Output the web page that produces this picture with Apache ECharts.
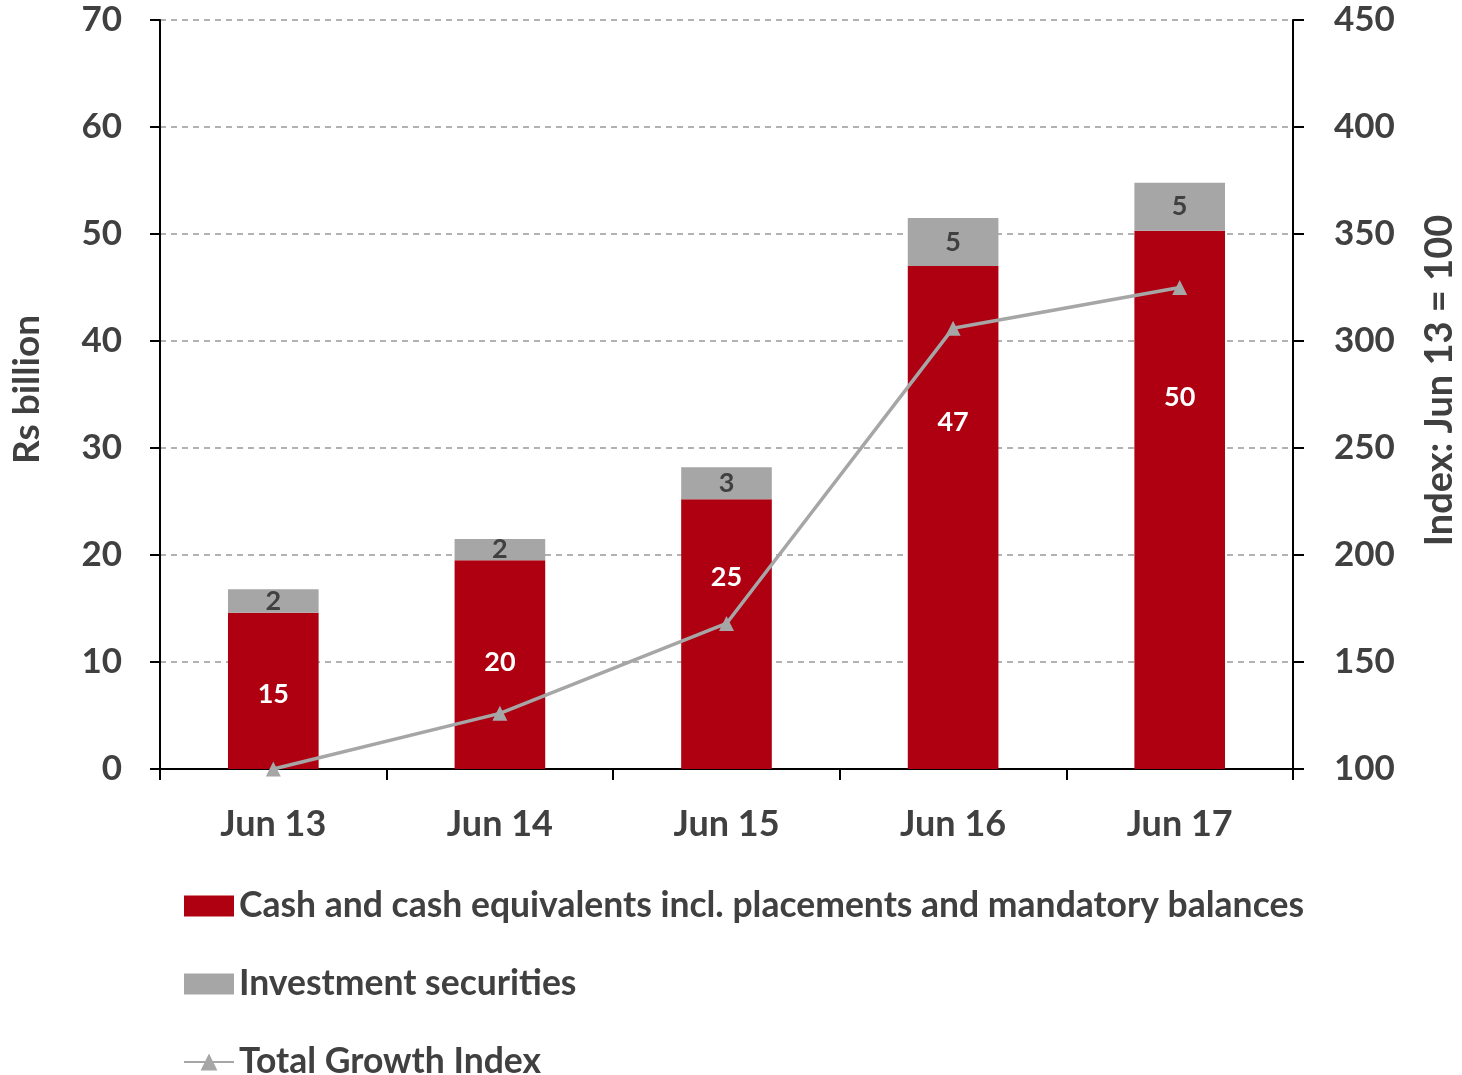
<!DOCTYPE html>
<html>
<head>
<meta charset="utf-8">
<script src="https://cdn.jsdelivr.net/npm/echarts@6/dist/echarts.min.js"></script>
<style>
html,body{margin:0;padding:0;background:#ffffff;overflow:hidden;}
#chart{width:1462px;height:1075px;}
</style>
</head>
<body>
<div id="chart"></div>
<script>
const categories = ['Jun 13', 'Jun 14', 'Jun 15', 'Jun 16', 'Jun 17'];
const cashValues = [14.6, 19.5, 25.2, 47.0, 50.3];
const investValues = [2.2, 2.0, 3.0, 4.5, 4.5];
const growthIndex = [100, 126, 168, 306, 325];
const leftTicks = { min: 0, max: 70, interval: 10 };
const rightTicks = { min: 100, max: 450, interval: 50 };
const seriesNames = [
  'Cash and cash equivalents incl. placements and mandatory balances',
  'Investment securities',
  'Total Growth Index'
];

// label placement (style) for red bar labels, relative to bar rect
const redLabelPos = [['50%','52%'],['50%','49%'],['50%','29%'],['50%','31%'],['50%','31%']];

const FONT = 'Lato';
const TXT = '#404040';
const RED = '#AE0010';
const GRAY = '#A6A6A6';

const chart = echarts.init(document.getElementById('chart'), null, { width: 1462, height: 1075 });
chart.setOption({
  backgroundColor: '#ffffff',
  textStyle: { fontFamily: FONT },
  grid: { left: 160, right: 169, top: 20, bottom: 306, containLabel: false, outerBoundsMode: 'none' },
  legend: {
    orient: 'vertical',
    left: 178,
    top: 881,
    height: 400,
    itemWidth: 50,
    itemHeight: 21,
    itemGap: 38,
    textStyle: { fontFamily: FONT, fontWeight: 'bold', fontSize: 35.5, color: TXT, lineHeight: 40 },
    data: [
      { name: seriesNames[0], icon: 'rect' },
      { name: seriesNames[1], icon: 'rect' },
      { name: seriesNames[2] }
    ]
  },
  xAxis: {
    type: 'category',
    data: categories,
    axisLine: { lineStyle: { color: '#000', width: 2 } },
    axisTick: { show: true, alignWithLabel: false, length: 11, lineStyle: { color: '#000', width: 2 } },
    axisLabel: { fontFamily: FONT, fontWeight: 'bold', fontSize: 36, color: TXT, margin: 37 }
  },
  yAxis: [
    {
      type: 'value',
      min: leftTicks.min, max: leftTicks.max, interval: leftTicks.interval,
      name: 'Rs billion',
      nameLocation: 'middle',
      nameRotate: 90,
      nameGap: 114,
      nameTextStyle: { fontFamily: FONT, fontWeight: 'bold', fontSize: 37, color: TXT, padding: [0, 0, 0, 10] },
      axisLine: { show: true, lineStyle: { color: '#000', width: 2 } },
      axisTick: { show: true, length: 10, lineStyle: { color: '#000', width: 2 } },
      axisLabel: { fontFamily: FONT, fontWeight: 'bold', fontSize: 35, color: TXT, margin: 38 },
      splitLine: { show: true, lineStyle: { color: '#999', width: 1.5, type: [6, 5] } }
    },
    {
      type: 'value',
      min: rightTicks.min, max: rightTicks.max, interval: rightTicks.interval,
      name: 'Index: Jun 13 = 100',
      nameLocation: 'middle',
      nameRotate: 90,
      nameGap: 128,
      nameTextStyle: { fontFamily: FONT, fontWeight: 'bold', fontSize: 38, color: TXT, padding: [0, 0, 0, 28] },
      position: 'right',
      axisLine: { show: true, lineStyle: { color: '#000', width: 2 } },
      axisTick: { show: true, length: 11, lineStyle: { color: '#000', width: 2 } },
      axisLabel: { fontFamily: FONT, fontWeight: 'bold', fontSize: 35, color: TXT, margin: 41 },
      splitLine: { show: false }
    }
  ],
  series: [
    {
      name: seriesNames[0],
      type: 'bar',
      stack: 'total',
      barWidth: '40%',
      itemStyle: { color: RED },
      data: cashValues.map((v, i) => ({
        value: v,
        label: { position: redLabelPos[i] }
      })),
      label: {
        show: true,
        align: 'center',
        verticalAlign: 'middle',
        color: '#ffffff',
        fontFamily: FONT, fontWeight: 'bold', fontSize: 27,
        formatter: p => Math.round(p.value)
      },
      z: 2
    },
    {
      name: seriesNames[1],
      type: 'bar',
      stack: 'total',
      barWidth: '40%',
      itemStyle: { color: GRAY },
      data: investValues,
      label: {
        show: true,
        position: 'inside',
        color: TXT,
        fontFamily: FONT, fontWeight: 'bold', fontSize: 27,
        formatter: p => Math.round(p.value)
      },
      z: 2
    },
    {
      name: seriesNames[2],
      type: 'line',
      yAxisIndex: 1,
      data: growthIndex,
      symbol: 'triangle',
      symbolSize: 15,
      lineStyle: { color: GRAY, width: 3.5 },
      itemStyle: { color: GRAY },
      z: 5
    }
  ]
});
</script>
</body>
</html>
